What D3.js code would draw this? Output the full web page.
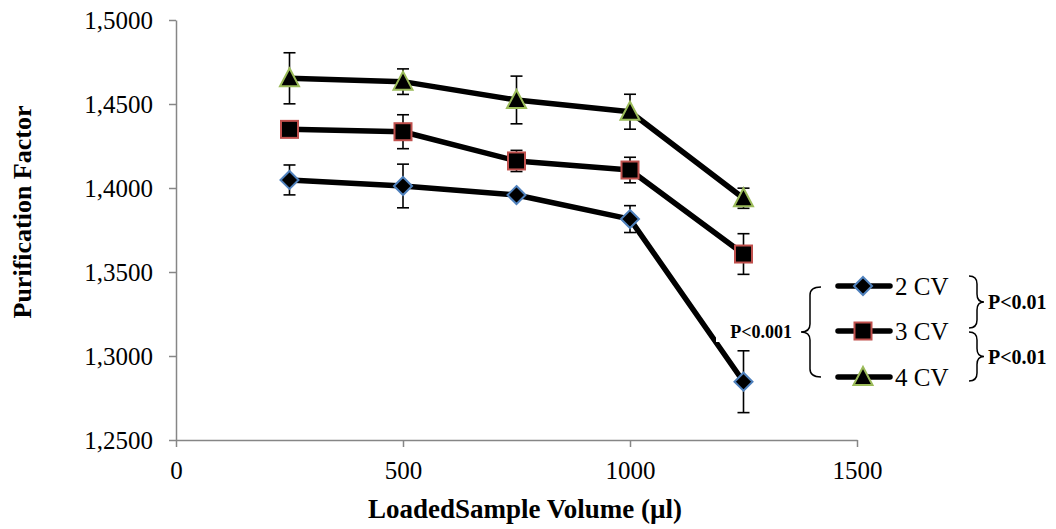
<!DOCTYPE html>
<html>
<head>
<meta charset="utf-8">
<script src="https://cdn.jsdelivr.net/npm/d3@7"></script>
<style>
  html, body { margin: 0; padding: 0; background: #fff; }
  svg { display: block; font-family: "Liberation Serif", "Times New Roman", serif; }
</style>
</head>
<body>
<svg id="chart" width="1056" height="529"></svg>
<script>
// ---- data ----
const volumes = [250, 500, 750, 1000, 1250];
const cv2 = [1.4048, 1.4012, 1.3958, 1.3815, 1.2847];
const cv2Err = [0.0089, 0.0130, 0.0020, 0.0080, 0.0184];
const cv3 = [1.4349, 1.4335, 1.4161, 1.4107, 1.3607];
const cv3Err = [0.0020, 0.0101, 0.0063, 0.0076, 0.0121];
const cv4 = [1.4653, 1.4633, 1.4524, 1.4454, 1.3939];
const cv4Err = [0.0152, 0.0076, 0.0142, 0.0104, 0.0060];
const seriesNames = ["2 CV", "3 CV", "4 CV"];
const xTicks = [0, 500, 1000, 1500];
const yTicks = [1.25, 1.30, 1.35, 1.40, 1.45, 1.50];
const xTitle = "LoadedSample Volume (µl)";
const yTitle = "Purification Factor";
const pAll = "P<0.001";
const pPair = ["P<0.01", "P<0.01"];

const svg = d3.select("#chart");
const x = d3.scaleLinear().domain([0, 1500]).range([176, 857]);
const y = d3.scaleLinear().domain([1.25, 1.5]).range([440, 20]);

const series = [
  { name: seriesNames[0], vals: cv2, err: cv2Err, shape: "diamond", stroke: "#4f81bd" },
  { name: seriesNames[1], vals: cv3, err: cv3Err, shape: "square", stroke: "#c0504d" },
  { name: seriesNames[2], vals: cv4, err: cv4Err, shape: "triangle", stroke: "#9bbb59" }
];

// ---- axes ----
const fmt = v => d3.format(".4f")(v).replace(".", ",");
const gy = svg.append("g").attr("transform", "translate(176,0)")
  .call(d3.axisLeft(y).tickValues(yTicks).tickFormat(fmt).tickSize(7).tickSizeOuter(0).tickPadding(16));
const gx = svg.append("g").attr("transform", "translate(0,440)")
  .call(d3.axisBottom(x).tickValues(xTicks).tickFormat(d3.format("d")).tickSize(7).tickSizeOuter(0).tickPadding(14));
[gy, gx].forEach(g => {
  g.select(".domain").attr("stroke", "#868686").attr("stroke-width", 1.5);
  g.selectAll(".tick line").attr("stroke", "#868686").attr("stroke-width", 1.5);
  g.selectAll(".tick text").attr("fill", "#000").style("font-size", "25px")
    .style("font-family", "'Liberation Serif', 'Times New Roman', serif");
});
gx.selectAll(".tick text").attr("dy", "0.71em");

// axis titles
svg.append("text").attr("x", 525).attr("y", 518).attr("text-anchor", "middle")
  .style("font-size", "27px").style("font-weight", "bold").text(xTitle);
svg.append("text").attr("transform", "translate(31,212) rotate(-90)").attr("text-anchor", "middle")
  .style("font-size", "26px").style("font-weight", "bold").text(yTitle);

// ---- lines ----
const line = d3.line().x((d, i) => x(volumes[i])).y(d => y(d));
series.forEach(s => {
  svg.append("path").attr("d", line(s.vals)).attr("fill", "none")
    .attr("stroke", "#000").attr("stroke-width", 5.5).attr("stroke-linejoin", "round");
});

// P<0.001 label box (white background clipping line)
svg.append("rect").attr("x", 716).attr("y", 320).attr("width", 80).attr("height", 22).attr("fill", "#fff");

// ---- error bars ----
series.forEach(s => {
  s.vals.forEach((v, i) => {
    const cx = x(volumes[i]);
    const g = svg.append("g").attr("stroke", "#000").attr("stroke-width", 1.6);
    g.append("line").attr("x1", cx).attr("x2", cx).attr("y1", y(v - s.err[i])).attr("y2", y(v + s.err[i]));
    [v - s.err[i], v + s.err[i]].forEach(e => {
      g.append("line").attr("x1", cx - 6).attr("x2", cx + 6).attr("y1", y(e)).attr("y2", y(e));
    });
  });
});

// ---- markers ----
function marker(g, shape, cx, cy, stroke) {
  let p;
  if (shape === "diamond") {
    p = g.append("path").attr("d", `M${cx},${cy - 9}L${cx + 9},${cy}L${cx},${cy + 9}L${cx - 9},${cy}Z`);
  } else if (shape === "square") {
    p = g.append("rect").attr("x", cx - 8.5).attr("y", cy - 8.5).attr("width", 17).attr("height", 17);
  } else {
    p = g.append("path").attr("d", `M${cx},${cy - 10}L${cx + 9.5},${cy + 8}L${cx - 9.5},${cy + 8}Z`);
  }
  p.attr("fill", "#000").attr("stroke", stroke).attr("stroke-width", 2);
}
series.forEach(s => {
  s.vals.forEach((v, i) => marker(svg, s.shape, x(volumes[i]), y(v), s.stroke));
});

// ---- legend ----
const legY = [286, 331, 377];
series.forEach((s, i) => {
  const ly = legY[i];
  svg.append("line").attr("x1", 838).attr("x2", 890).attr("y1", ly).attr("y2", ly)
    .attr("stroke", "#000").attr("stroke-width", 5.5).attr("stroke-linecap", "round");
  marker(svg, s.shape, 863, ly, s.stroke);
  svg.append("text").attr("x", 895).attr("y", ly).attr("dy", "0.35em")
    .style("font-size", "25px").text(s.name);
});

// braces
function leftBrace(xEnd, xv, xTip, y1, y2) {
  const m = (y1 + y2) / 2, r = 8;
  return `M${xEnd},${y1} Q${xv},${y1} ${xv},${y1 + r} L${xv},${m - r} Q${xv},${m} ${xTip},${m}` +
         ` Q${xv},${m} ${xv},${m + r} L${xv},${y2 - r} Q${xv},${y2} ${xEnd},${y2}`;
}
const braceStyle = p => p.attr("fill", "none").attr("stroke", "#000").attr("stroke-width", 1.5);
braceStyle(svg.append("path").attr("d", leftBrace(821, 810, 801, 287, 377)));
braceStyle(svg.append("path").attr("d", leftBrace(969, 977, 984, 276, 328)));
braceStyle(svg.append("path").attr("d", leftBrace(969, 977, 984, 332, 381)));

svg.append("text").attr("x", 792).attr("y", 332).attr("dy", "0.35em").attr("text-anchor", "end")
  .style("font-size", "18px").style("font-weight", "bold").text(pAll);
svg.append("text").attr("x", 988).attr("y", 302).attr("dy", "0.35em")
  .style("font-size", "20px").style("font-weight", "bold").text(pPair[0]);
svg.append("text").attr("x", 988).attr("y", 357).attr("dy", "0.35em")
  .style("font-size", "20px").style("font-weight", "bold").text(pPair[1]);
</script>
</body>
</html>
